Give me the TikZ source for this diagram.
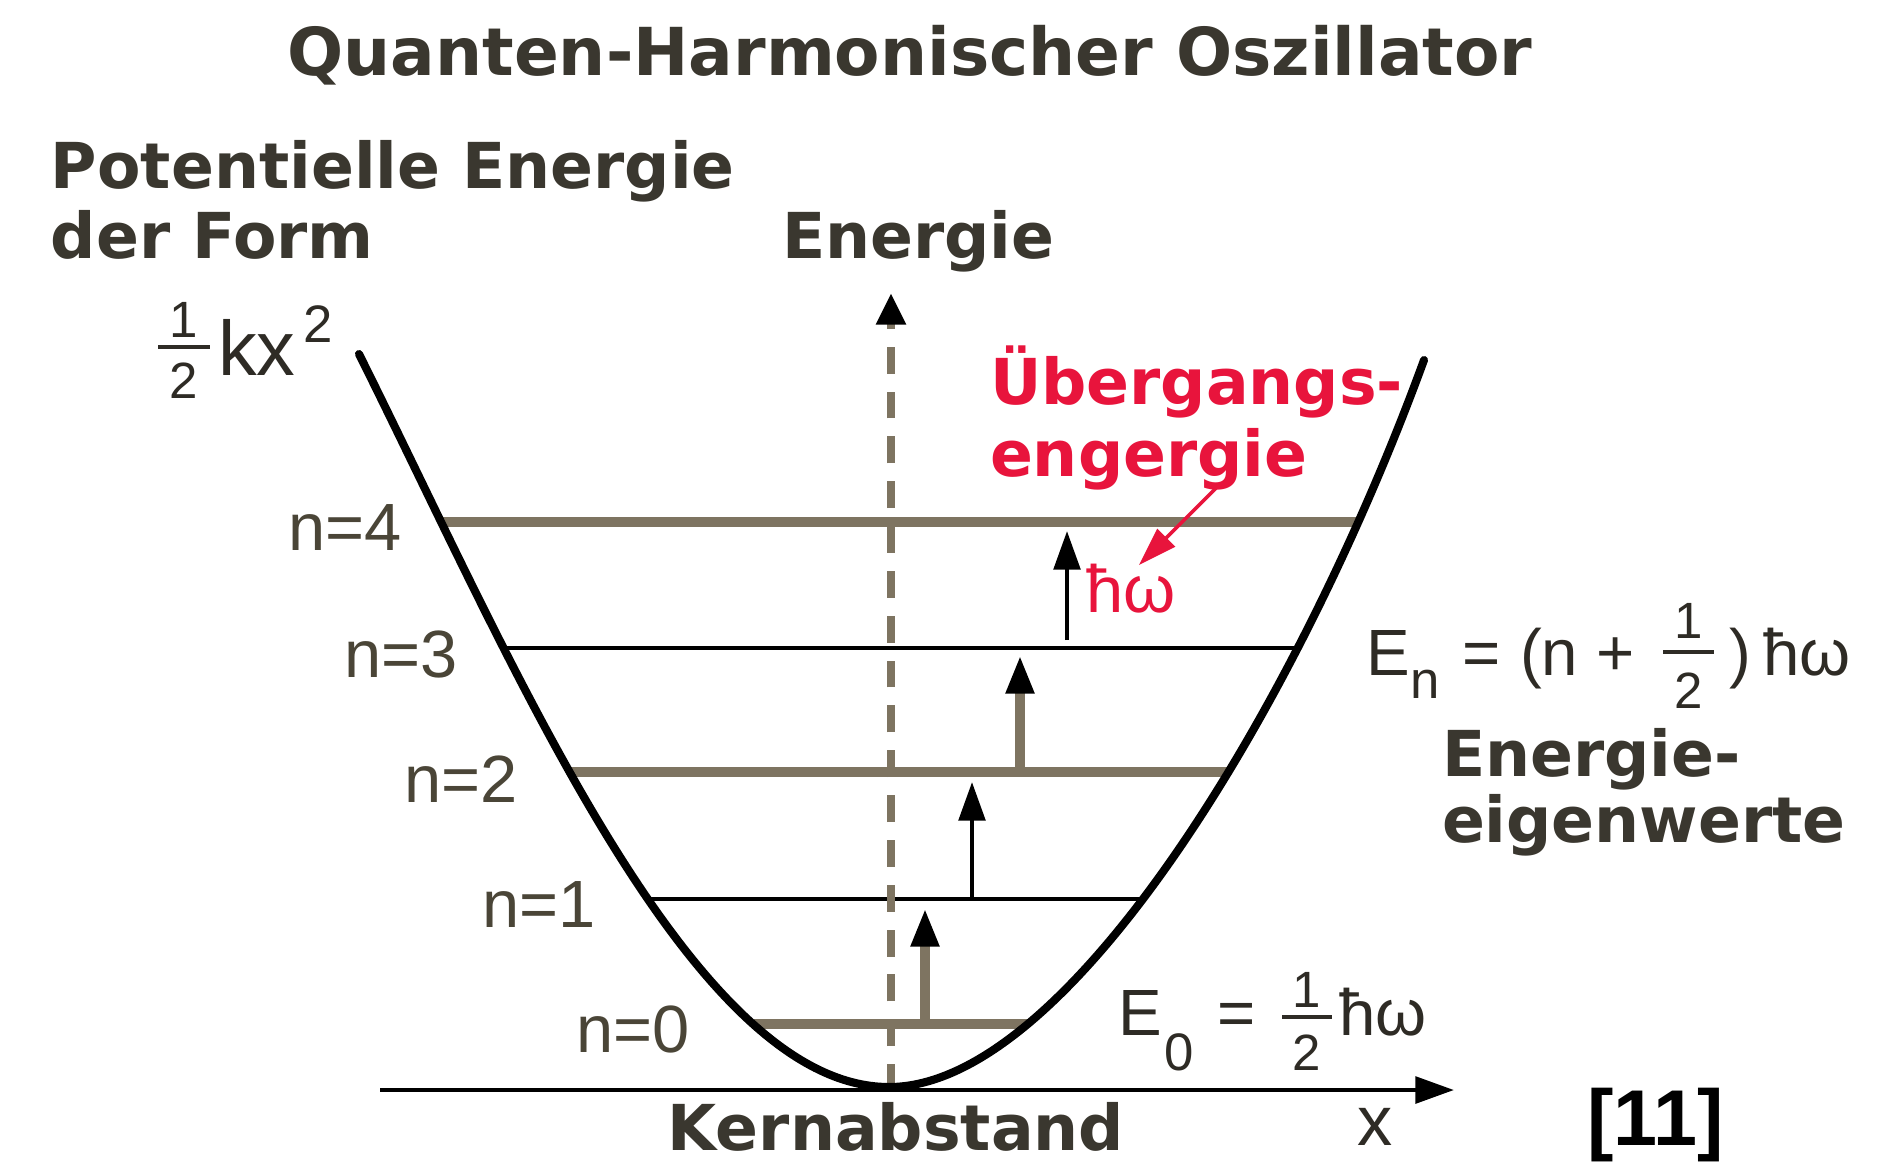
\documentclass[tikz,border=0pt]{standalone}
\usepackage{fontspec}
\setmainfont{Liberation Sans}
\newfontfamily\dvfam{DejaVu Sans}
\usetikzlibrary{arrows.meta}
\definecolor{txt}{HTML}{3A372F}
\definecolor{lvl}{HTML}{7E7461}
\definecolor{lab}{HTML}{4A4537}
\definecolor{frm}{HTML}{2E2B25}
\definecolor{rd}{HTML}{E8143C}
\begin{document}
\begin{tikzpicture}[x=0.01cm,y=-0.01cm,
  every node/.style={inner sep=0pt, outer sep=0pt},
  boldlab/.style={font=\dvfam\bfseries\fontsize{18}{20}\selectfont, text=txt},
  redlab/.style={font=\dvfam\bfseries\fontsize{18}{20}\selectfont, text=rd},
  nlab/.style={font=\fontsize{19}{20}\selectfont, text=lab, anchor=base west},
  fbig/.style={font=\fontsize{18.6}{20}\selectfont, text=frm, anchor=base west},
  fsmall/.style={font=\fontsize{14.5}{16}\selectfont, text=frm, anchor=base},
  fsub/.style={font=\fontsize{15}{16}\selectfont, text=frm, anchor=base west},
  fbar/.style={draw=frm, line width=1.2pt},
  lvlthick/.style={draw=lvl, line width=3.1pt},
  lvlthin/.style={draw=black, line width=1.3pt},
  curve/.style={draw=black, line width=2.3pt},
  arrthick/.style={draw=lvl, line width=2.8pt, -{Triangle[length=11pt,width=7.5pt,color=black]}},
  arrthin/.style={draw=black, line width=1.3pt, -{Triangle[length=11pt,width=7.5pt,color=black]}},
  axisdash/.style={draw=lvl, line width=2.5pt, dash pattern=on 7.65pt off 5.1pt, -{Triangle[length=9pt,width=8pt,color=black]}},
  xaxis/.style={draw=black, line width=1.4pt, -{Triangle[length=11pt,width=7.5pt]}},
  redarr/.style={draw=rd, line width=1pt, -{Triangle[length=11pt,width=7pt]}}
]
\fill[white] (0,0) rectangle (1900,1162);
\useasboundingbox (0,0) rectangle (1900,1162);

% titles
\node[boldlab, font=\dvfam\bfseries\fontsize{18.8}{20}\selectfont, anchor=base] (title) at (910,75) {Quanten-Harmonischer Oszillator};
\node[boldlab, anchor=base west] (pot1) at (51,188) {Potentielle Energie};
\node[boldlab, anchor=base west] (pot2) at (51,258) {der Form};
\node[boldlab, anchor=base west] (energie) at (782,258) {Energie};

% 1/2 k x^2
\node[fsmall] (kf1) at (184,337) {1};
\node[fsmall] (kf2) at (184,398) {2};
\coordinate (kbarL) at (158,347);
\coordinate (kbarR) at (210,347);
\draw[fbar] (kbarL) -- (kbarR);
\node[font=\fontsize{22}{24}\selectfont, text=frm, anchor=base west] (kx) at (218,375) {kx};
\node[fsub] (ksup) at (303,342) {2};

% energy levels
\coordinate (L4l) at (441,522);  \coordinate (L4r) at (1358,522);
\coordinate (L3l) at (503,648);  \coordinate (L3r) at (1298,648);
\coordinate (L2l) at (569,772);  \coordinate (L2r) at (1228,772);
\coordinate (L1l) at (648,899);  \coordinate (L1r) at (1143,899);
\coordinate (L0l) at (754,1024); \coordinate (L0r) at (1027,1024);
\draw[lvlthick] (L4l) -- (L4r);
\draw[lvlthin]  (L3l) -- (L3r);
\draw[lvlthick] (L2l) -- (L2r);
\draw[lvlthin]  (L1l) -- (L1r);
\draw[lvlthick] (L0l) -- (L0r);

% dashed energy axis
\coordinate (ebot) at (891,1091);
\coordinate (etop) at (891,293);
\draw[axisdash] (ebot) -- (etop);

% x axis
\coordinate (xl) at (380,1090);
\coordinate (xr) at (1454,1090);
\draw[xaxis] (xl) -- (xr);

% potential curve
\coordinate (ptl) at (359,354);
\coordinate (pv) at (889,1087);
\coordinate (ptr) at (1424,360);
\draw[curve, line cap=round] (ptl) .. controls (509,654) and (689,1087) .. (pv)
  .. controls (1069,1087) and (1300,700) .. (ptr);

% transition arrows
\coordinate (a1s) at (925,1024); \coordinate (a1e) at (925,908);
\coordinate (a2s) at (972,899);  \coordinate (a2e) at (972,782);
\coordinate (a3s) at (1020,772); \coordinate (a3e) at (1020,655);
\coordinate (a4s) at (1067,640); \coordinate (a4e) at (1067,531);
\draw[arrthick] (a1s) -- (a1e);
\draw[arrthin]  (a2s) -- (a2e);
\draw[arrthick] (a3s) -- (a3e);
\draw[arrthin]  (a4s) -- (a4e);

% level labels
\node[nlab] (n4) at (288,550) {n=4};
\node[nlab] (n3) at (344,677) {n=3};
\node[nlab] (n2) at (404,802) {n=2};
\node[nlab] (n1) at (482,927) {n=1};
\node[nlab] (n0) at (576,1052) {n=0};

% red transition label
\node[redlab, anchor=base west] (ueb1) at (990,404) {Übergangs-};
\node[redlab, anchor=base west] (ueb2) at (990,476) {engergie};
\node[font=\fontsize{19}{20}\selectfont, text=rd, anchor=base west] (hw) at (1086,612) {ħω};
\coordinate (ra) at (1216,488);
\coordinate (rb) at (1139,565);
\draw[redarr] (ra) -- (rb);

% E_n formula
\node[fbig] (En) at (1366,675) {E};
\node[fsub] (Ensub) at (1410,698) {n};
\node[fbig, anchor=base] (Eneq) at (1482,675) {=};
\node[fbig] (Enp) at (1520,675) {(n};
\node[fbig, anchor=base] (Enplus) at (1616,675) {+};
\node[fsmall] (Enf1) at (1689,638) {1};
\node[fsmall] (Enf2) at (1689,708) {2};
\coordinate (Enbl) at (1663,652);
\coordinate (Enbr) at (1714,652);
\draw[fbar] (Enbl) -- (Enbr);
\node[fbig] (Enq) at (1729,675) {)};
\node[fbig] (Enhw) at (1763,675) {ħω};
\node[boldlab, anchor=base west] (eig1) at (1442,776) {Energie-};
\node[boldlab, anchor=base west] (eig2) at (1442,842) {eigenwerte};

% E_0 formula
\node[fbig] (E0) at (1118,1035) {E};
\node[fsub] (E0sub) at (1164,1070) {0};
\node[fbig, anchor=base] (E0eq) at (1237,1035) {=};
\node[fsmall] (E0f1) at (1307,1007) {1};
\node[fsmall] (E0f2) at (1307,1070) {2};
\coordinate (E0bl) at (1282,1017);
\coordinate (E0br) at (1332,1017);
\draw[fbar] (E0bl) -- (E0br);
\node[fbig] (E0hw) at (1339,1035) {ħω};

% bottom labels
\node[boldlab, anchor=base] (kern) at (896,1150) {Kernabstand};
\node[font=\fontsize{20}{22}\selectfont, text=frm, anchor=base west] (xlab) at (1357,1145) {x};
\node[font=\bfseries\fontsize{22.5}{24}\selectfont, text=black, anchor=base west] (ref) at (1587,1145) {[11]};
\end{tikzpicture}
\end{document}
